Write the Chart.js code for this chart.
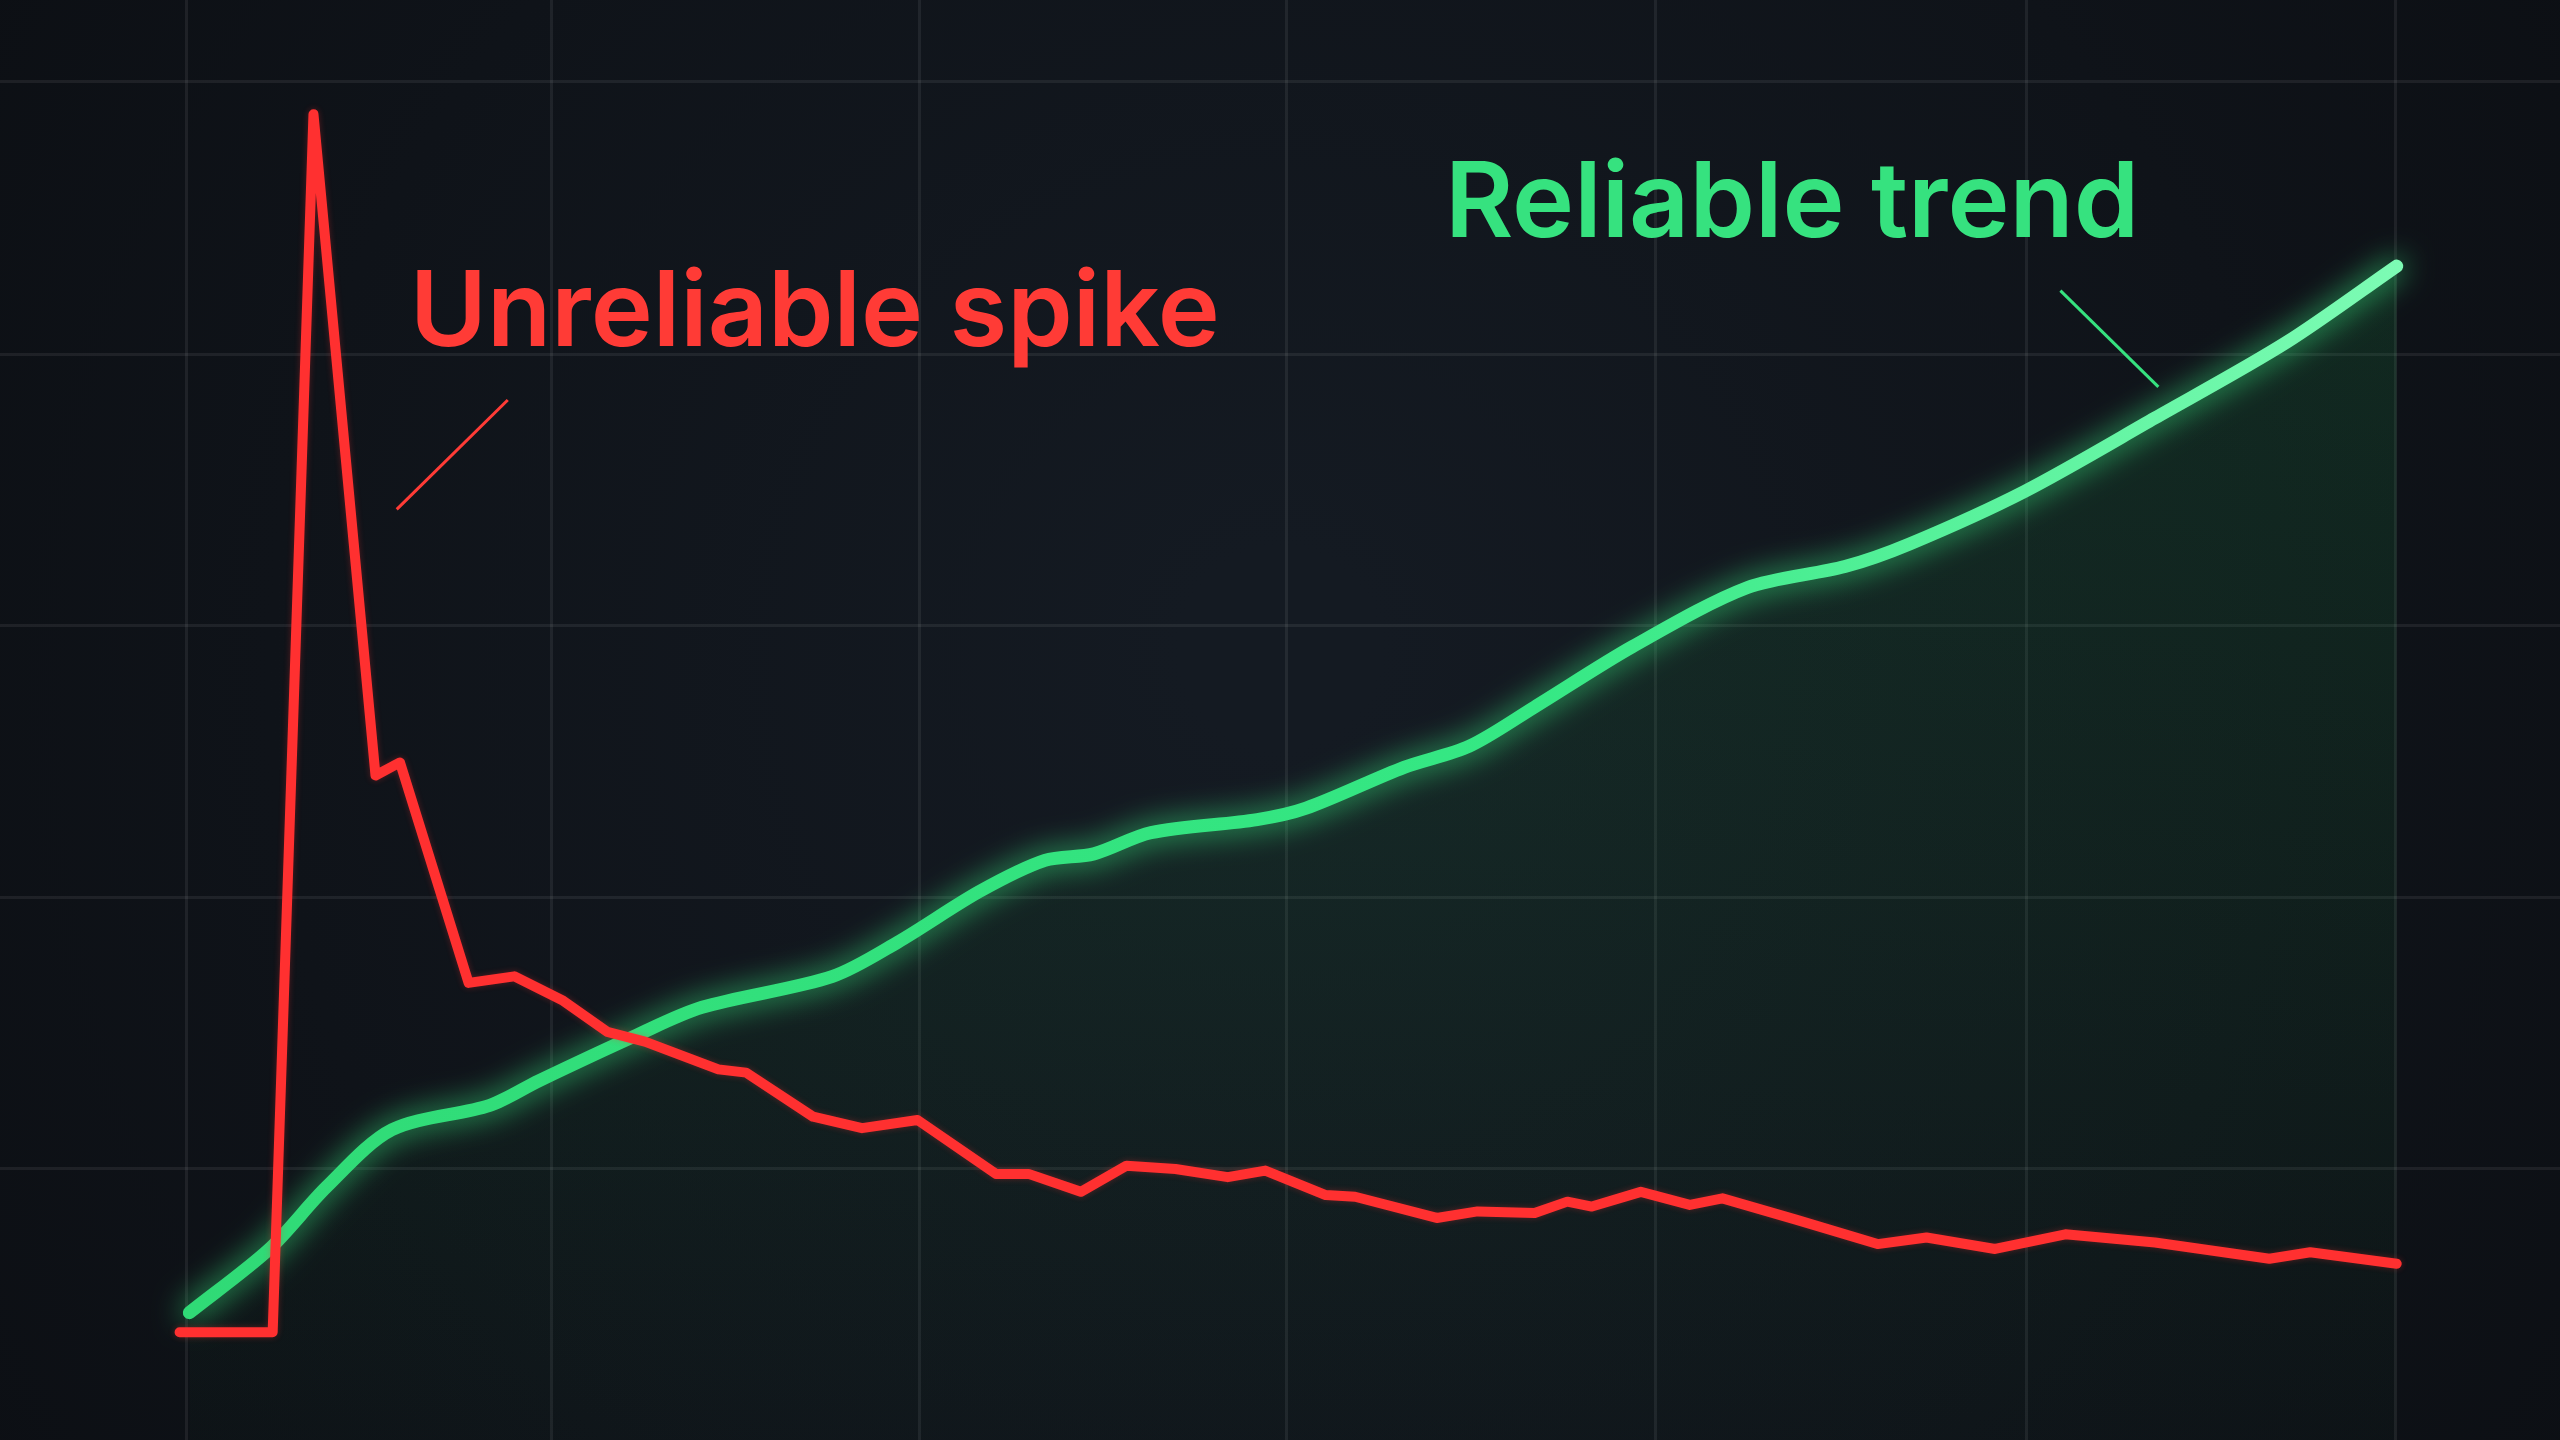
<!DOCTYPE html>
<html><head><meta charset="utf-8">
<script src="https://cdn.jsdelivr.net/npm/chart.js@4"></script>
<style>html,body{margin:0;padding:0;background:#0e1218;overflow:hidden}canvas{display:block}</style>
</head><body>
<canvas id="c" width="2560" height="1440"></canvas>
<script>
// Data in reference units (x across, y up from bottom)
const redX = [110,167,192,230,245,287,315,345,372,395,440,457,498,528,562,610,630,662,690,720,752,775,812,830,880,905,940,960,975,1005,1035,1055,1100,1150,1180,1222,1265,1320,1390,1415,1468];
const redY = [66,66,812,407,415,280,284,269,250,244,227,225,198,191,196,163,163,152,168,166,161,165,150,149,136,140,139,146,143,152,144,148,135,120,124,117,126,121,111,115,108];
const greenX = [116,165,200,240,300,330,390,430,510,550,600,640,670,705,770,800,860,900,940,1000,1070,1130,1170,1240,1320,1400,1468];
const greenY = [78,117,155,190,205,220,248,265,284,305,336,355,359,372,380,387,412,425,449,486,522,535,549,581,626,672,719];
const xGrid = [114,338,563,788,1014,1241,1467];
const yGrid = [166,332,499,665,832];
const labelRed = "Unreliable spike";
const labelGreen = "Reliable trend";

const pts = (xs, ys) => xs.map((x, i) => ({x, y: ys[i]}));

const bg = {
  id: 'bg',
  beforeDraw(chart) {
    const {ctx, width, height} = chart;
    const g = ctx.createRadialGradient(width*0.5, height*0.45, 100, width*0.5, height*0.5, width*0.75);
    g.addColorStop(0, '#141a22'); g.addColorStop(1, '#0a0c10');
    ctx.save(); ctx.fillStyle = g; ctx.fillRect(0, 0, width, height); ctx.restore();
  }
};
const glow = {
  id: 'glow',
  beforeDatasetDraw(chart, args) {
    const ctx = chart.ctx; ctx.save();
    if (args.index === 1) { ctx.shadowColor = 'rgba(60,255,140,0.8)'; ctx.shadowBlur = 30; }
    else { ctx.shadowColor = 'rgba(255,50,50,0.3)'; ctx.shadowBlur = 6; }
  },
  afterDatasetDraw(chart) { chart.ctx.restore(); }
};
const labels = {
  id: 'labels',
  afterDraw(chart) {
    const {ctx, scales: {x, y}} = chart;
    ctx.save();
    ctx.font = '600 105px Inter, "Noto Sans", sans-serif';
    ctx.textBaseline = 'alphabetic';
    ctx.fillStyle = '#ff3b36';
    ctx.fillText(labelRed, x.getPixelForValue(251), y.getPixelForValue(882-212));
    ctx.fillStyle = '#36e27f';
    ctx.fillText(labelGreen, x.getPixelForValue(885), y.getPixelForValue(882-145));
    ctx.lineWidth = 3;
    ctx.strokeStyle = '#ff3b36';
    ctx.beginPath(); ctx.moveTo(x.getPixelForValue(243), y.getPixelForValue(882-312));
    ctx.lineTo(x.getPixelForValue(311), y.getPixelForValue(882-245)); ctx.stroke();
    ctx.strokeStyle = '#36e27f';
    ctx.beginPath(); ctx.moveTo(x.getPixelForValue(1262), y.getPixelForValue(882-178));
    ctx.lineTo(x.getPixelForValue(1322), y.getPixelForValue(882-237)); ctx.stroke();
    ctx.restore();
  }
};

const ctx = document.getElementById('c').getContext('2d');
new Chart(ctx, {
  type: 'line',
  data: { datasets: [
    { data: pts(redX, redY), borderColor: '#ff3030', borderWidth: 10, pointRadius: 0, tension: 0, fill: false, borderCapStyle: 'round', borderJoinStyle: 'round', order: 0 },
    { data: pts(greenX, greenY), borderWidth: 13, pointRadius: 0, tension: 0.3, borderCapStyle: 'round', borderJoinStyle: 'round', order: 1,
      borderColor: (c) => { const a = c.chart.chartArea; if (!a) return '#2fe07c';
        const g = c.chart.ctx.createLinearGradient(a.left, 0, a.right, 0);
        g.addColorStop(0, '#2fd874'); g.addColorStop(0.6, '#35e884'); g.addColorStop(1, '#8affbd'); return g; },
      fill: 'origin',
      backgroundColor: (c) => { const a = c.chart.chartArea; if (!a) return 'rgba(30,150,70,0.1)';
        const g = c.chart.ctx.createLinearGradient(0, a.top, 0, a.bottom);
        g.addColorStop(0, 'rgba(30,160,80,0.2)'); g.addColorStop(0.6, 'rgba(30,150,70,0.1)'); g.addColorStop(1, 'rgba(30,150,70,0.02)'); return g; }
    }
  ]},
  options: {
    responsive: false, devicePixelRatio: 1, animation: false,
    layout: { padding: 0 },
    plugins: { legend: { display: false }, tooltip: { enabled: false } },
    scales: {
      x: { type: 'linear', min: 0, max: 1568, border: { display: false },
        afterBuildTicks: (s) => { s.ticks = xGrid.map(v => ({value: v})); },
        ticks: { display: false }, grid: { color: 'rgba(255,255,255,0.07)', lineWidth: 3, drawTicks: false } },
      y: { type: 'linear', min: 0, max: 882, border: { display: false },
        afterBuildTicks: (s) => { s.ticks = yGrid.map(v => ({value: v})); },
        ticks: { display: false }, grid: { color: 'rgba(255,255,255,0.07)', lineWidth: 3, drawTicks: false } }
    }
  },
  plugins: [bg, glow, labels]
});
</script>
</body></html>
